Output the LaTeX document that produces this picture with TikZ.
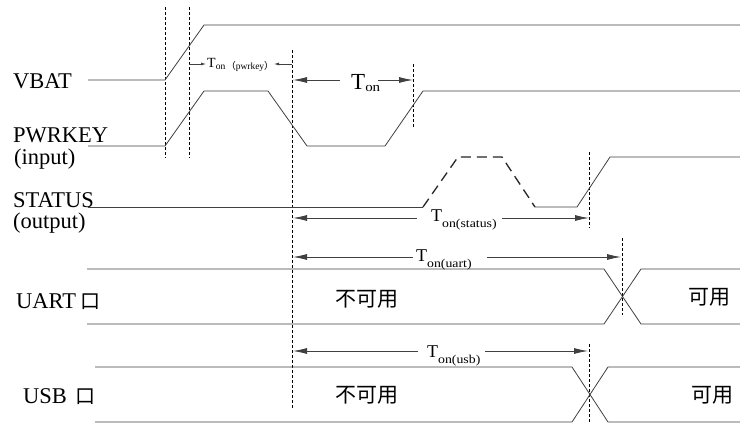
\documentclass[tikz,border=0pt]{standalone}
\usepackage{fontspec}
\setmainfont{Liberation Serif}
\newfontfamily\cjk{Noto Sans CJK SC}
\newfontfamily\subfont[FakeStretch=1.15]{Liberation Serif}
\usetikzlibrary{arrows.meta}
\begin{document}
\begin{tikzpicture}[x=1pt,y=-1pt,
  wave/.style={draw=black!75,line width=0.8pt},
  pulse/.style={draw=black!85,line width=1.3pt,dash pattern=on 10pt off 6pt},
  guide/.style={draw=black,line width=0.7pt,dash pattern=on 3pt off 2pt},
  arr/.style={draw=black!75,line width=0.8pt,-{Latex[length=14pt,width=6pt]}},
  sarr/.style={draw=black!75,line width=0.7pt,-{Latex[length=5pt,width=3pt]}},
  lbl/.style={anchor=base west,inner sep=0pt,font=\fontsize{22.5}{22.5}\selectfont},
  cn/.style={anchor=center,inner sep=0pt,font=\cjk\fontsize{21}{21}\selectfont},
  tl/.style={anchor=base west,inner sep=0pt}]
\useasboundingbox (0,0) rectangle (740,423);
\fill[white] (0,0) rectangle (740,423);

% signal labels
\node[lbl] (vbat) at (13,88) {VBAT};
\node[lbl] (pwr) at (13,142) {PWRKEY};
\node[lbl] (pwri) at (14,164) {(input)};
\node[lbl] (stat) at (13,207) {STATUS};
\node[lbl] (stato) at (13,228) {(output)};
\node[lbl] (uart) at (16,308) {UART\hspace{4pt}{\cjk\fontsize{20}{20}\selectfont 口}};
\node[lbl] (usb) at (23,403) {USB\hspace{9pt}{\cjk\fontsize{20}{20}\selectfont 口}};

% guide lines
\coordinate (d1a) at (165,7);   \coordinate (d1b) at (165,158);
\coordinate (d2a) at (189,7);   \coordinate (d2b) at (189,158);
\coordinate (d3a) at (292,50);  \coordinate (d3b) at (292,408);
\coordinate (d4a) at (413,64);  \coordinate (d4b) at (413,128);
\coordinate (d5a) at (589,152); \coordinate (d5b) at (589,228);
\coordinate (d6a) at (622,238); \coordinate (d6b) at (622,315);
\coordinate (d7a) at (589,344); \coordinate (d7b) at (589,423);
\draw[guide] (d1a) -- (d1b);
\draw[guide] (d2a) -- (d2b);
\draw[guide] (d3a) -- (d3b);
\draw[guide] (d4a) -- (d4b);
\draw[guide] (d5a) -- (d5b);
\draw[guide] (d6a) -- (d6b);
\draw[guide] (d7a) -- (d7b);

% waveforms
\draw[wave] (88,80) -- (165,80) -- (204,25) -- (740,25);
\draw[wave] (88,146) -- (165,146) -- (204,91) -- (268,91) -- (307,146) -- (385,146) -- (423,91) -- (740,91);
\draw[wave] (88,207) -- (423,207);
\draw[pulse] (423,207) -- (458,157) -- (502,157) -- (535,207);
\draw[wave] (535,207) -- (577,207) -- (610,157) -- (740,157);
\draw[wave] (87,269) -- (604,269) -- (641,324) -- (740,324);
\draw[wave] (87,324) -- (604,324) -- (641,269) -- (740,269);
\draw[wave] (95,367) -- (572,367) -- (608,422) -- (740,422);
\draw[wave] (95,422) -- (572,422) -- (608,367) -- (740,367);

% bus state texts
\node[cn] (u1) at (367,299) {不可用};
\node[cn] (u2) at (709,297) {可用};
\node[cn] (b1) at (367,395) {不可用};
\node[cn] (b2) at (712,395) {可用};

% timing labels
\node[tl] (tpk) at (207,67) {\fontsize{14}{14}\selectfont T\raisebox{-2.5pt}{\fontsize{9.5}{9.5}\selectfont on\hspace{1pt}{\cjk （}pwrkey{\cjk ）}}};
\node[tl] (ton) at (351,89) {\fontsize{23}{23}\selectfont T\raisebox{-2pt}{\subfont\fontsize{13}{13}\selectfont on}};
\node[tl] (tst) at (431,221) {\fontsize{18}{18}\selectfont T\raisebox{-6pt}{\subfont\fontsize{12}{12}\selectfont on(status)}};
\node[tl] (tua) at (416,261) {\fontsize{18}{18}\selectfont T\raisebox{-6pt}{\subfont\fontsize{12}{12}\selectfont on(uart)}};
\node[tl] (tus) at (427,357) {\fontsize{18}{18}\selectfont T\raisebox{-6pt}{\subfont\fontsize{12}{12}\selectfont on(usb)}};

% dimension arrows
\coordinate (p1) at (189,64); \coordinate (p1e) at (206,64);
\coordinate (p2) at (292,64); \coordinate (p2e) at (274,64);
\draw[sarr] (p1) -- (p1e);
\draw[sarr] (p2) -- (p2e);

\coordinate (a1s) at (340,80); \coordinate (a1e) at (293,80);
\coordinate (a2s) at (378,80); \coordinate (a2e) at (413,80);
\draw[arr] (a1s) -- (a1e);
\draw[arr] (a2s) -- (a2e);

\coordinate (s1s) at (417,218); \coordinate (s1e) at (293,218);
\coordinate (s2s) at (502,218); \coordinate (s2e) at (589,218);
\draw[arr] (s1s) -- (s1e);
\draw[arr] (s2s) -- (s2e);

\coordinate (r1s) at (413,257); \coordinate (r1e) at (293,257);
\coordinate (r2s) at (487,257); \coordinate (r2e) at (621,257);
\draw[arr] (r1s) -- (r1e);
\draw[arr] (r2s) -- (r2e);

\coordinate (b1s) at (418,351); \coordinate (b1e) at (293,351);
\coordinate (b2s) at (485,351); \coordinate (b2e) at (588,351);
\draw[arr] (b1s) -- (b1e);
\draw[arr] (b2s) -- (b2e);
\end{tikzpicture}
\end{document}
